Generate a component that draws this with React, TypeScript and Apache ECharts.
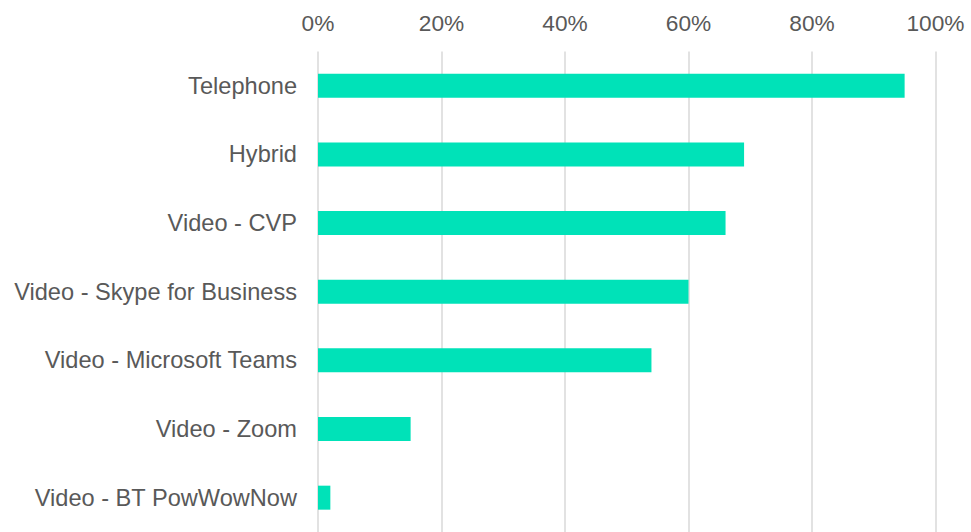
import React, { useEffect, useRef } from "react";
import * as echarts from "echarts";

const categories = [
  "Telephone",
  "Hybrid",
  "Video - CVP",
  "Video - Skype for Business",
  "Video - Microsoft Teams",
  "Video - Zoom",
  "Video - BT PowWowNow",
];
const values = [95, 69, 66, 60, 54, 15, 2];
const tickMin = 0;
const tickMax = 100;
const tickStep = 20;

export default function App() {
  const ref = useRef<HTMLDivElement>(null);
  useEffect(() => {
    if (!ref.current) return;
    const chart = echarts.init(ref.current, null, { renderer: "svg" });
    const font = "'Liberation Sans', Arial, sans-serif";
    chart.setOption({
      animation: false,
      grid: { left: 318, right: 35.5, top: 51.4, height: 484.5, containLabel: false },
      xAxis: {
        type: "value",
        position: "top",
        min: tickMin,
        max: tickMax,
        interval: tickStep,
        axisLine: { show: false },
        axisTick: { show: false },
        axisLabel: {
          formatter: "{value}%",
          color: "#595959",
          fontSize: 22.7,
          fontFamily: font,
          margin: 17,
        },
        splitLine: { show: true, lineStyle: { color: "#d9d9d9", width: 1.5 } },
      },
      yAxis: {
        type: "category",
        data: categories,
        inverse: true,
        axisLine: { show: false },
        axisTick: { show: false },
        axisLabel: {
          color: "#595959",
          fontSize: 23.6,
          fontFamily: font,
          margin: 21,
        },
        splitLine: { show: false },
      },
      series: [
        {
          type: "bar",
          data: values,
          barWidth: 24,
          itemStyle: { color: "#00E2B8" },
        },
      ],
    });
    return () => chart.dispose();
  }, []);
  return <div ref={ref} style={{ width: 971, height: 532, position: "absolute", left: 0, top: 0 }} />;
}
